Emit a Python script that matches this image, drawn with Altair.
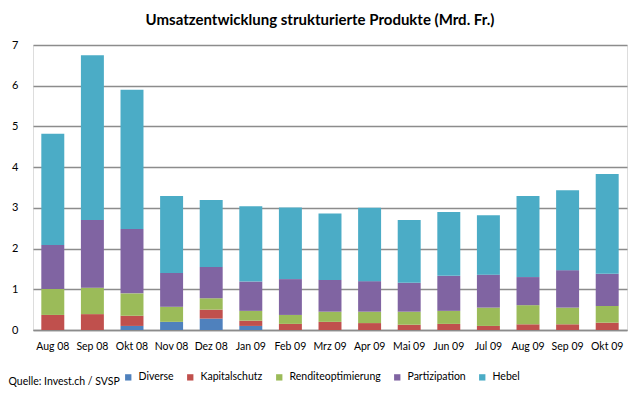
import altair as alt
import pandas as pd

months = ["Aug 08", "Sep 08", "Okt 08", "Nov 08", "Dez 08", "Jan 09", "Feb 09", "Mrz 09",
          "Apr 09", "Mai 09", "Jun 09", "Jul 09", "Aug 09", "Sep 09", "Okt 09"]
categories = ["Diverse", "Kapitalschutz", "Renditeoptimierung", "Partizipation", "Hebel"]
colors = ["#4F81BD", "#C0504D", "#9BBB59", "#8064A2", "#4BACC6"]

diverse = [0, 0, 0.10, 0.20, 0.28, 0.10, 0, 0, 0, 0, 0, 0, 0, 0, 0]
kapitalschutz = [0.37, 0.39, 0.25, 0.0, 0.22, 0.13, 0.15, 0.20, 0.17, 0.13, 0.15, 0.10, 0.14, 0.14, 0.18]
rendite = [0.64, 0.65, 0.55, 0.37, 0.28, 0.24, 0.22, 0.25, 0.28, 0.32, 0.32, 0.45, 0.47, 0.41, 0.41]
partizipation = [1.08, 1.66, 1.58, 0.83, 0.77, 0.72, 0.88, 0.78, 0.75, 0.71, 0.86, 0.81, 0.69, 0.92, 0.79]
hebel = [2.73, 4.05, 3.42, 1.89, 1.64, 1.85, 1.76, 1.63, 1.80, 1.54, 1.57, 1.46, 1.99, 1.96, 2.45]

title_text = "Umsatzentwicklung strukturierte Produkte (Mrd. Fr.)"
source_text = "Quelle: Invest.ch / SVSP"

series = [diverse, kapitalschutz, rendite, partizipation, hebel]
rows = []
for ci, (cat, vals) in enumerate(zip(categories, series)):
    for m, v in zip(months, vals):
        rows.append({"Monat": m, "Kategorie": cat, "Wert": v, "idx": ci})
df = pd.DataFrame(rows)

FONT = "Lato"

bars = alt.Chart(df).mark_bar().encode(
    x=alt.X("Monat:N", sort=months, title=None,
            scale=alt.Scale(paddingInner=0.42, paddingOuter=0.21),
            axis=alt.Axis(labelAngle=0, ticks=False, tickSize=0, domain=True,
                          domainColor="#8c8c8c", domainWidth=1.5, labelPadding=11,
                          labelFontSize=10.5, labelFont=FONT, labelColor="#000000")),
    y=alt.Y("sum(Wert):Q", title=None,
            scale=alt.Scale(domain=[0, 7], nice=False),
            axis=alt.Axis(values=[0, 1, 2, 3, 4, 5, 6, 7], ticks=False, tickSize=0, domain=False,
                          grid=True, gridColor="#8c8c8c", gridWidth=1.5,
                          labelPadding=15, labelFontSize=11, labelFont=FONT, labelColor="#000000",
                          format="d")),
    color=alt.Color("Kategorie:N",
                    scale=alt.Scale(domain=categories, range=colors),
                    sort=categories,
                    legend=alt.Legend(title=None, orient="none", direction="horizontal",
                                      columns=5, legendX=90, legendY=327,
                                      symbolType="square", symbolSize=40, symbolStrokeWidth=0,
                                      labelFont=FONT, labelFontSize=10.5, labelColor="#000000",
                                      labelOffset=5, columnPadding=11, padding=0)),
    order=alt.Order("idx:Q", sort="ascending"),
)

title = alt.Chart(pd.DataFrame({"t": [title_text]})).mark_text(
    font=FONT, fontSize=15, fontWeight="bold", align="center", baseline="middle", color="#000000"
).encode(text="t:N", x=alt.value(287), y=alt.value(-25))

source = alt.Chart(pd.DataFrame({"t": [source_text]})).mark_text(
    font=FONT, fontSize=10.5, align="left", baseline="middle", color="#000000"
).encode(text="t:N", x=alt.value(-24.5), y=alt.value(336.5))

chart = alt.layer(bars, title, source).properties(
    width=594, height=285,
    autosize=alt.AutoSizeParams(type="none"),
    padding={"left": 25, "top": 37, "right": 5, "bottom": 58},
).configure_view(stroke=None).configure(background="white")

chart.save("out.html", embed_options={"renderer": "svg", "actions": False})
